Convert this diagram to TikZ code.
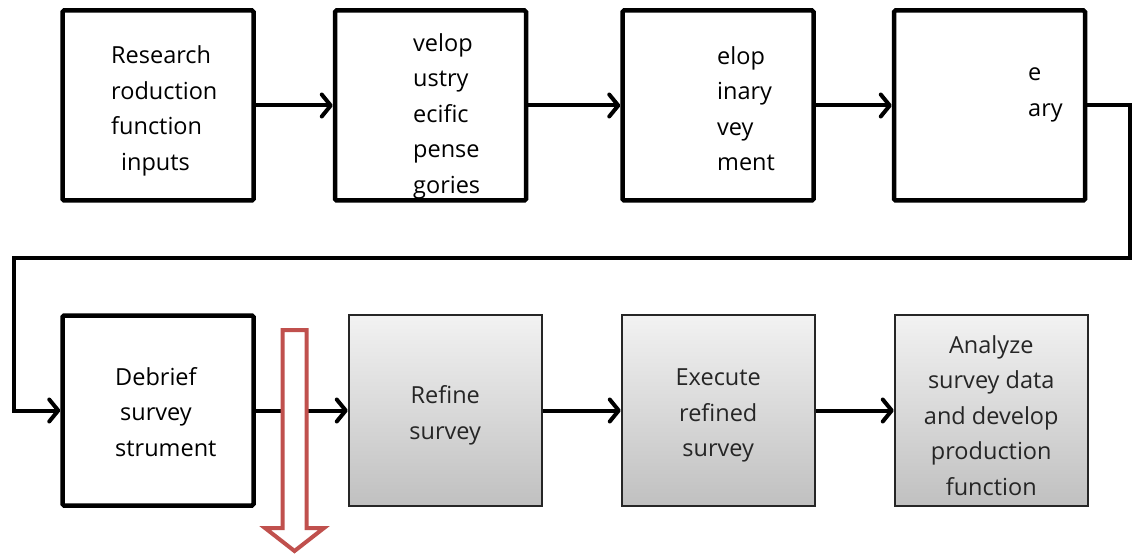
\documentclass[tikz,border=0pt]{standalone}
\usepackage{fontspec}
\setmainfont{Open Sans}
\usetikzlibrary{arrows.meta,positioning}
\definecolor{darkred}{HTML}{C0504D}
\definecolor{boxline}{HTML}{262626}
\definecolor{graytop}{HTML}{F2F2F2}
\definecolor{graybot}{HTML}{C0C0C0}

\begin{document}
\begin{tikzpicture}[
 x=1pt,y=-1pt,
 font=\fontsize{23.5}{35.5}\selectfont,
 w/.style={draw=black,line width=4.5pt,rounded corners=1.5pt,minimum width=191pt,minimum height=190pt,fill=white},
 g/.style={draw=boxline,line width=2pt,minimum width=193pt,minimum height=191pt,top color=graytop,bottom color=graybot},
 txt/.style={align=left,anchor=west,inner sep=0pt},
 gtxt/.style={align=center,inner sep=0pt,text=boxline},
 arr/.style={line width=4pt,-{Straight Barb[length=9pt,width=22pt,round]}},
 hollow/.style={draw=darkred,line width=4pt,fill=white,line join=miter}
]
\useasboundingbox (0,0) rectangle (1132,556);
% first row
\node[w] (b1) at (158,105.5) {};
\node[w,right=77pt of b1] (b2) {};
\node[w,right=92pt of b2] (b3) {};
\node[w,right=76pt of b3] (b4) {};
% second row
\node[w] (b5) at (158,410.5) {};
\node[g,right=92pt of b5] (b6) {};
\node[g,right=78pt of b6] (b7) {};
\node[g,right=78pt of b7] (b8) {};
% texts
\node[txt] (t1) at (111,111) {Research\\roduction\\function\\\hspace*{10pt}inputs};
\node[txt] (t2) at (413,116) {velop\\ustry\\ecific\\pense\\gories};
\node[txt] (t3) at (717,108.5) {elop\\inary\\vey\\ment};
\node[txt] (t4) at (1028,95) {e\\ary};
\node[txt] (t5) at (115,412) {Debrief\\\hspace*{5pt}survey\\strument};
\node[gtxt] (t6) at ([yshift=-5pt]b6.center) {Refine\\survey};
\node[gtxt] (t7) at ([yshift=-5pt]b7.center) {Execute\\refined\\survey};
\node[gtxt] (t8) at ([yshift=-5pt]b8.center) {Analyze\\survey data\\and develop\\production\\function};
\coordinate (r) at (1130,258);
\coordinate (l) at (14,258);
\draw[arr] (b1)--(b2); \draw[arr] (b2)--(b3); \draw[arr] (b3)--(b4);
\draw[arr] (b4.east) -| (r) -- (l) |- (b5.west);
\draw[arr] (b5)--(b6); \draw[arr] (b6)--(b7); \draw[arr] (b7)--(b8);
% hollow red arrow
\draw[hollow] (282.5,330) -- (306.5,330) -- (306.5,528) -- (324,528) -- (294.5,551)
 -- (265,528) -- (282.5,528) -- cycle;
\end{tikzpicture}
\end{document}
